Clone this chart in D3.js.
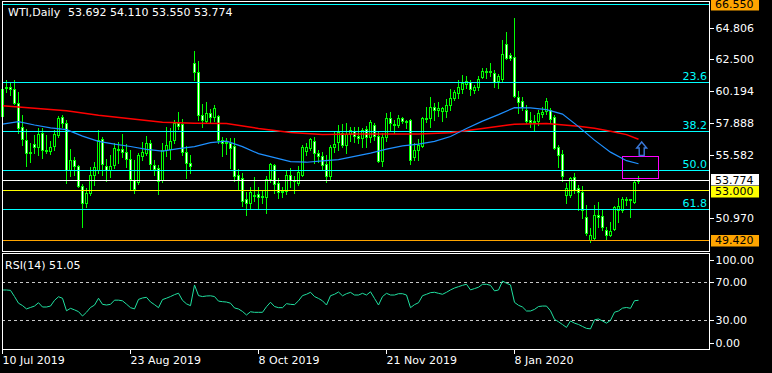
<!DOCTYPE html>
<html>
<head>
<meta charset="utf-8">
<script src="https://cdn.jsdelivr.net/npm/d3@7/dist/d3.min.js"></script>
<style>
    html, body { margin: 0; padding: 0; background: #000; }
    svg { display: block; font-family: 'DejaVu Sans', sans-serif; font-size: 11px; }
</style>
</head>
<body>
<svg width="772" height="373"></svg>
<script>
// ---- data ----
var symbolTitle = 'WTI,Daily';
var lastQuote = [53.692, 54.110, 53.550, 53.774];

var opens = [58.45, 60.45, 60.56, 60.39, 59.35, 57.61, 56.69, 55.80, 56.40, 56.20,
    57.20, 55.95, 55.92, 56.26, 57.05, 58.33, 57.90, 54.52, 55.24, 54.81,
    53.36, 52.15, 52.85, 54.13, 54.52, 56.74, 54.80, 54.55, 54.88, 56.05,
    56.02, 55.80, 55.29, 53.82, 53.63, 55.55, 55.73, 56.50, 54.88, 54.64,
    53.79, 55.97, 56.05, 56.69, 57.95, 57.84, 55.80, 55.00, 62.30, 61.64,
    58.50, 58.05, 58.65, 58.38, 58.43, 56.69, 56.55, 56.45, 56.26, 54.15,
    53.91, 52.41, 52.10, 52.72, 52.77, 52.60, 52.58, 53.90, 54.86, 53.55,
    52.95, 53.02, 54.15, 53.79, 53.60, 54.15, 55.88, 56.09, 56.64, 55.77,
    55.53, 54.93, 54.08, 56.15, 56.55, 57.22, 56.33, 57.10, 57.37, 56.98,
    56.82, 57.47, 56.93, 57.78, 56.98, 55.19, 56.88, 58.26, 57.85, 57.78,
    58.25, 58.08, 58.14, 55.48, 55.97, 56.26, 58.26, 58.26, 59.06, 58.85,
    58.80, 58.80, 59.23, 59.70, 60.08, 60.36, 60.75, 60.92, 60.32, 60.55,
    61.28, 61.65, 61.68, 61.53, 60.99, 61.09, 63.63, 62.85, 62.73, 59.79,
    59.54, 58.87, 58.12, 58.05, 58.09, 58.57, 58.79, 58.87, 58.34, 56.21,
    55.68, 52.70, 52.70, 53.99, 53.20, 52.94, 51.13, 49.44, 49.57, 51.25,
    51.20, 50.17, 49.80, 50.22, 51.62, 51.62, 52.45, 52.38, 52.22, 53.692];
var highs = [60.62, 61.04, 60.80, 61.04, 60.15, 58.50, 57.47, 56.45, 57.05, 57.55,
    57.55, 57.05, 56.62, 57.45, 58.45, 58.50, 58.15, 56.05, 55.44, 54.88,
    53.50, 53.19, 54.76, 55.12, 57.42, 56.93, 55.29, 55.58, 56.50, 56.57,
    57.13, 56.40, 55.97, 55.24, 55.73, 56.57, 56.95, 56.69, 55.24, 54.90,
    56.50, 57.66, 57.54, 58.14, 58.74, 58.19, 56.26, 55.60, 63.14, 62.41,
    59.30, 59.47, 58.95, 59.25, 58.50, 56.93, 56.80, 56.85, 56.80, 54.60,
    54.30, 52.90, 53.30, 54.03, 53.30, 53.10, 54.05, 55.00, 54.95, 53.91,
    53.30, 54.52, 54.64, 54.10, 54.81, 56.30, 56.50, 56.85, 56.90, 55.95,
    55.84, 55.60, 56.30, 57.30, 57.78, 57.85, 57.90, 57.60, 57.66, 57.60,
    57.54, 57.70, 58.14, 57.90, 57.25, 57.20, 58.63, 58.74, 58.14, 58.50,
    58.38, 58.15, 58.20, 56.50, 56.74, 58.34, 59.06, 59.79, 59.35, 59.47,
    59.11, 59.64, 60.39, 60.32, 61.04, 61.40, 61.33, 61.05, 60.68, 61.30,
    61.89, 61.90, 62.30, 61.77, 61.48, 63.94, 64.54, 62.98, 65.51, 60.26,
    59.79, 59.23, 58.74, 58.50, 58.87, 59.10, 59.71, 58.99, 58.50, 56.33,
    55.97, 53.55, 54.03, 54.32, 53.45, 53.36, 51.98, 50.29, 51.98, 52.22,
    51.62, 50.35, 50.77, 51.90, 52.46, 52.58, 52.54, 52.45, 53.75, 54.110];
var lows = [58.30, 60.19, 59.95, 59.30, 57.17, 56.33, 54.83, 55.12, 55.77, 55.60,
    55.35, 55.72, 55.68, 56.00, 56.90, 57.60, 53.60, 54.08, 54.15, 53.31,
    50.41, 51.81, 52.70, 53.43, 54.30, 54.15, 53.74, 54.03, 54.64, 55.05,
    55.44, 54.76, 53.14, 52.87, 53.50, 55.24, 55.60, 54.52, 54.15, 52.80,
    53.67, 55.50, 55.30, 56.45, 57.47, 55.60, 53.91, 54.32, 61.04, 58.14,
    57.60, 57.90, 58.00, 58.10, 56.50, 55.53, 55.70, 54.64, 53.70, 53.07,
    51.90, 51.25, 51.74, 52.30, 51.74, 52.10, 51.38, 53.67, 52.83, 52.50,
    52.58, 52.80, 53.31, 52.83, 53.40, 54.10, 55.60, 56.00, 55.00, 55.10,
    54.52, 53.67, 53.90, 55.85, 56.00, 56.16, 55.73, 56.60, 56.55, 56.45,
    56.21, 56.20, 56.55, 56.69, 55.10, 54.83, 56.60, 57.42, 57.18, 57.60,
    57.90, 57.54, 54.94, 55.24, 55.24, 56.15, 57.98, 57.66, 58.14, 58.43,
    58.07, 58.38, 58.87, 59.60, 59.70, 60.08, 60.44, 59.95, 60.08, 60.32,
    61.16, 61.20, 61.35, 60.51, 60.44, 60.95, 62.54, 62.49, 59.79, 58.63,
    58.87, 57.90, 57.66, 57.37, 57.80, 58.38, 58.60, 57.90, 56.05, 54.74,
    53.75, 52.10, 52.58, 52.83, 51.62, 51.02, 49.78, 49.32, 49.45, 50.40,
    50.17, 49.45, 49.75, 50.15, 50.77, 51.49, 51.98, 51.13, 52.15, 53.550];
var closes = [60.39, 60.55, 60.39, 59.40, 57.54, 56.74, 55.73, 55.85, 56.20, 57.15,
    55.96, 56.00, 56.20, 57.10, 58.31, 57.90, 54.52, 55.24, 54.81, 53.36,
    52.15, 52.87, 54.13, 54.71, 56.69, 54.93, 54.55, 54.80, 56.09, 56.02,
    55.80, 55.29, 53.84, 53.12, 55.61, 55.85, 56.50, 54.95, 54.57, 53.74,
    55.97, 56.30, 56.62, 57.95, 57.70, 55.84, 55.00, 54.80, 61.64, 58.50,
    58.14, 58.62, 58.33, 58.99, 56.69, 56.45, 56.58, 56.09, 54.08, 53.79,
    52.29, 52.10, 52.94, 52.68, 52.54, 52.65, 53.83, 54.93, 53.50, 52.94,
    53.00, 54.15, 53.79, 53.70, 54.35, 56.16, 56.16, 56.74, 55.77, 55.50,
    54.88, 54.08, 56.16, 56.40, 57.29, 56.33, 57.13, 57.45, 56.98, 56.82,
    57.40, 56.93, 58.02, 56.98, 55.19, 56.93, 58.26, 57.90, 57.80, 58.26,
    58.10, 58.05, 55.24, 55.97, 56.33, 58.26, 58.20, 59.06, 58.87, 59.00,
    59.00, 59.20, 59.71, 60.19, 60.51, 60.84, 61.00, 60.37, 60.55, 61.08,
    61.69, 61.66, 61.62, 60.92, 61.33, 62.90, 62.66, 62.61, 59.88, 59.47,
    59.06, 58.07, 58.00, 58.10, 58.63, 58.74, 59.51, 58.19, 56.09, 55.60,
    54.10, 53.19, 53.91, 53.07, 52.95, 51.62, 49.92, 49.80, 51.25, 51.13,
    50.41, 49.81, 50.12, 51.81, 51.91, 52.39, 52.40, 52.42, 53.67, 53.774];

var rsiValues = [61.9, 61.9, 61.5, 55, 48, 45.5, 42, 43.5, 45, 48.5,
    44, 44, 45, 51, 54.8, 53.2, 40, 42.6, 41, 39.1,
    34.5, 38.5, 43.5, 46, 53.2, 46.8, 46.1, 46.8, 51.2, 51.2,
    50.5, 47, 43.3, 42, 52, 53.5, 54.2, 49.3, 46.5, 43.3,
    51.8, 53.3, 55, 57, 58.5, 51, 47.3, 45.4, 67.2, 56,
    55, 55.6, 55.8, 55, 50.2, 49.6, 49.2, 48, 43, 41.9,
    39.3, 35.6, 39, 38.4, 38.4, 38.4, 44.3, 49, 44.5, 43.3,
    43.3, 47.5, 46.8, 46.5, 50.5, 56, 57.4, 59.5, 55, 53,
    50.5, 46.1, 55.9, 57.4, 59.8, 55.8, 58, 59.4, 56.6, 56.6,
    58.4, 56.6, 60, 53, 46.1, 55, 58.4, 56.6, 56.6, 58,
    58, 56.6, 43.3, 46.5, 48.5, 55.9, 57.4, 59.1, 59.5, 58.4,
    57.4, 59.5, 62, 64, 65.4, 66.8, 67.9, 62, 63.4, 64.8,
    67.9, 67.9, 66.8, 61, 61.9, 71.3, 69, 67.2, 48.9, 45.8,
    44, 39.8, 39.8, 41.5, 44.5, 45, 45, 40, 31, 28.5,
    25.5, 22.5, 29.3, 27, 25.6, 23.5, 21.5, 21, 30.5, 31.4,
    29.3, 27, 30, 38.5, 39.8, 42.8, 43.5, 42.6, 50.6, 51.05];

// moving averages, [bar, price]
var maFast = [[0, 57.84], [4, 58.02], [8, 57.78], [12, 57.57], [16, 57.44], [20, 56.97],
    [24, 56.59], [28, 56.39], [32, 56.22], [36, 56.01], [40, 55.88], [44, 56.06],
    [48, 56.21], [52, 56.50], [56, 56.61], [60, 56.21], [64, 55.70], [68, 55.41],
    [72, 55.12], [76, 55.08], [80, 55.18], [84, 55.27], [88, 55.51], [92, 55.74],
    [96, 56.03], [100, 56.27], [104, 56.39], [108, 56.59], [112, 56.94], [116, 57.52],
    [120, 58.06], [124, 58.53], [128, 59.04], [132, 59.02], [136, 58.89], [140, 58.57],
    [144, 57.66], [148, 56.68], [152, 55.81], [156, 55.19], [159, 54.97]];
var maSlow = [[0, 59.17], [8, 59.00], [16, 58.81], [24, 58.48], [32, 58.24], [40, 57.97],
    [48, 57.91], [56, 57.88], [64, 57.53], [72, 57.24], [80, 57.09], [88, 57.12],
    [96, 57.12], [104, 57.12], [112, 57.22], [120, 57.52], [128, 57.84], [136, 57.89],
    [144, 57.68], [148, 57.55], [152, 57.33], [156, 57.08], [159, 56.75]];

var priceTicks = [64.806, 62.500, 60.194, 57.888, 55.582, 50.970];
var markedPrices = [66.550, 53.774, 53.000, 49.420];
var rsiTicks = [100, 70, 30, 0];
var rsiLevels = [70, 30];
var dateBars = [0, 32, 64, 96, 128];
var dateLabels = ['10 Jul 2019', '23 Aug 2019', '8 Oct 2019', '21 Nov 2019', '8 Jan 2020'];

var fibHigh = 66.55;
var fibLow = 42.41;
var fibLevels = [0, 23.6, 38.2, 50.0, 61.8];

var zoneBars = [155, 164];
var zonePrices = [55.46, 53.89];
var arrowBar = 159.8;
var arrowPrice = 56.55;

(function () {
    var svg = d3.select('svg');
    var left = 2, right = 709;
    var markColors = ['#ffa500', '#ffffff', '#ffff00', '#ffa500'];

    var bars = closes.map(function (c, i) {
        return {i: i, o: opens[i], h: highs[i], l: lows[i], c: c};
    });

    var x = d3.scaleLinear().domain([0, 159]).range([2.5, 638.5]);
    var y = d3.scaleLinear().domain([49.42, 66.55]).range([240.3, 4]);
    var yRsi = d3.scaleLinear().domain([0, 100]).range([348.8, 253.8]);

    // snap to pixel centre for 1px lines
    function px(v) {
        return Math.round(v - 0.5) + 0.5;
    }

    function hLine(g, yy, color, dash) {
        g.append('line')
            .attr('x1', left).attr('x2', right)
            .attr('y1', px(yy)).attr('y2', px(yy))
            .attr('stroke', color)
            .attr('stroke-dasharray', dash || null);
    }

    var plot = svg.append('g').attr('shape-rendering', 'crispEdges');

    // candles: wick first, body on top
    plot.selectAll('line.wick')
        .data(bars)
        .enter()
        .append('line')
        .attr('class', 'wick')
        .attr('x1', function (d) { return x(d.i); })
        .attr('x2', function (d) { return x(d.i); })
        .attr('y1', function (d) { return Math.round(y(d.h)); })
        .attr('y2', function (d) { return Math.round(y(d.l)) + 1; })
        .attr('stroke', '#00ff00');

    plot.selectAll('rect.body')
        .data(bars)
        .enter()
        .append('rect')
        .attr('class', 'body')
        .attr('x', function (d) { return x(d.i) - 1; })
        .attr('y', function (d) { return Math.round(y(Math.max(d.o, d.c))) + 0.5; })
        .attr('width', 2)
        .attr('height', function (d) {
            var h = Math.round(y(Math.min(d.o, d.c))) - Math.round(y(Math.max(d.o, d.c)));
            return Math.max(1, h);
        })
        .attr('fill', function (d) { return d.c >= d.o ? '#000' : '#fff'; })
        .attr('stroke', '#00ff00');

    // moving averages
    var maLine = d3.line()
        .x(function (d) { return x(d[0]); })
        .y(function (d) { return y(d[1]); });

    svg.append('path')
        .attr('d', maLine(maSlow))
        .attr('fill', 'none')
        .attr('stroke', '#ff0000')
        .attr('stroke-width', 1.5);

    svg.append('path')
        .attr('d', maLine(maFast))
        .attr('fill', 'none')
        .attr('stroke', '#1e90ff')
        .attr('stroke-width', 1.2);

    // horizontal levels
    markedPrices.forEach(function (p, k) {
        hLine(plot, y(p), markColors[k]);
    });

    // fibonacci retracement
    fibLevels.forEach(function (lv) {
        var p = fibHigh - (fibHigh - fibLow) * lv / 100;
        hLine(plot, y(p), '#00ffff');
        if (lv > 0) {
            svg.append('text')
                .attr('x', 707)
                .attr('y', px(y(p)) - 3)
                .attr('text-anchor', 'end')
                .attr('fill', '#00ffff')
                .text(d3.format('.1f')(lv));
        }
    });

    // marked zone and arrow
    plot.append('rect')
        .attr('x', px(x(zoneBars[0])))
        .attr('y', px(y(zonePrices[0])))
        .attr('width', Math.round(x(zoneBars[1]) - x(zoneBars[0])))
        .attr('height', Math.round(y(zonePrices[1]) - y(zonePrices[0])))
        .attr('fill', 'none')
        .attr('stroke', '#ff00ff')
        .attr('stroke-width', 1.5);

    var ax = x(arrowBar), ay = y(arrowPrice);
    svg.append('path')
        .attr('d', 'M' + ax + ',' + ay +
            'L' + (ax + 5) + ',' + (ay + 6) +
            'L' + (ax + 2.5) + ',' + (ay + 6) +
            'L' + (ax + 2.5) + ',' + (ay + 13.5) +
            'L' + (ax - 2.5) + ',' + (ay + 13.5) +
            'L' + (ax - 2.5) + ',' + (ay + 6) +
            'L' + (ax - 5) + ',' + (ay + 6) + 'Z')
        .attr('fill', 'none')
        .attr('stroke', '#3a78d8')
        .attr('stroke-width', 1.4);

    // RSI window
    var rsiG = svg.append('g');
    rsiLevels.forEach(function (lv) {
        hLine(rsiG, yRsi(lv), '#c8c8c8', '3,3');
    });
    rsiG.append('path')
        .attr('d', d3.line()
            .x(function (d, i) { return x(i); })
            .y(function (d) { return yRsi(d); })(rsiValues))
        .attr('fill', 'none')
        .attr('stroke', '#20e0a0')
        .attr('stroke-width', 1);

    // frames
    var frames = svg.append('g')
        .attr('fill', 'none')
        .attr('stroke', '#fff')
        .attr('shape-rendering', 'crispEdges');
    frames.append('rect').attr('x', 2.5).attr('y', 1.5).attr('width', 707).attr('height', 250);
    frames.append('rect').attr('x', 2.5).attr('y', 253.5).attr('width', 707).attr('height', 96);

    // price axis
    var priceAxis = d3.axisRight(y)
        .tickValues(priceTicks)
        .tickFormat(d3.format('.3f'))
        .tickSize(4)
        .tickPadding(2)
        .offset(0);
    var pa = svg.append('g')
        .attr('transform', 'translate(709.5,0)')
        .call(priceAxis);
    styleAxis(pa);

    // coloured price labels, pushed apart when they touch
    var tags = markedPrices.map(function (p, k) {
        return {p: p, color: markColors[k], cy: y(p)};
    }).sort(function (a, b) { return a.cy - b.cy; });
    for (var k = 1; k < tags.length; k++) {
        var gap = tags[k].cy - tags[k - 1].cy;
        if (gap < 11.5) {
            var shift = (11.5 - gap) / 2;
            tags[k - 1].cy -= shift;
            tags[k].cy += shift;
        }
    }
    tags.forEach(function (t) {
        svg.append('rect')
            .attr('x', 711).attr('y', Math.round(t.cy - 5.5))
            .attr('width', 48).attr('height', 11.5)
            .attr('fill', t.color);
        svg.append('text')
            .attr('x', 715).attr('y', t.cy).attr('dy', '0.35em')
            .attr('fill', '#000')
            .text(d3.format('.3f')(t.p));
    });

    // rsi axis, end labels pushed inside the window
    var rsiAxis = d3.axisRight(yRsi)
        .tickValues(rsiTicks)
        .tickFormat(d3.format('.2f'))
        .tickSize(4)
        .tickPadding(2)
        .offset(0);
    var ra = svg.append('g')
        .attr('transform', 'translate(709.5,0)')
        .call(rsiAxis);
    ra.selectAll('.tick').attr('transform', function (d) {
        return 'translate(0,' + Math.max(260, Math.min(343, yRsi(d))) + ')';
    });
    styleAxis(ra);

    // time axis
    var timeAxis = d3.axisBottom(x)
        .tickValues(dateBars)
        .tickFormat(function (d, i) { return dateLabels[i]; })
        .tickSize(4)
        .offset(0);
    var ta = svg.append('g')
        .attr('transform', 'translate(0,349.5)')
        .call(timeAxis);
    ta.selectAll('text').attr('text-anchor', 'start');
    styleAxis(ta);

    // titles
    svg.append('text')
        .attr('x', 8).attr('y', 15.5)
        .attr('fill', '#fff')
        .text(symbolTitle);
    svg.append('text')
        .attr('x', 68).attr('y', 15.5)
        .attr('fill', '#fff')
        .text(lastQuote.map(d3.format('.3f')).join(' '));
    svg.append('text')
        .attr('x', 5).attr('y', 268.5)
        .attr('fill', '#fff')
        .text('RSI(14) ' + d3.format('.2f')(rsiValues[rsiValues.length - 1]));

    /**
     * Black background look for an axis
     */
    function styleAxis(g) {
        g.select('.domain').remove();
        g.selectAll('line').attr('stroke', '#fff').attr('shape-rendering', 'crispEdges');
        g.selectAll('text')
            .attr('fill', '#fff')
            .style('font-family', "'DejaVu Sans', sans-serif")
            .style('font-size', '11px');
    }
}());
</script>
</body>
</html>
